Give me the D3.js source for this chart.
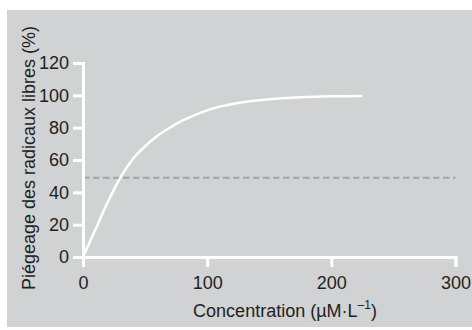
<!DOCTYPE html>
<html>
<head>
<meta charset="utf-8">
<script src="https://cdn.jsdelivr.net/npm/d3@7"></script>
<style>
  body { margin: 0; background: #fff; }
  svg { display: block; font-family: 'Liberation Sans', Arial, sans-serif; }
</style>
</head>
<body>
<script>
// concentration (µM/L) and scavenging (%)
const concentration = [0, 10, 20, 30, 40, 50, 60, 70, 80, 90, 100, 110, 125, 150, 175, 200, 225]
const scavenging = [0, 17, 34, 49, 60.5, 68.5, 75, 80, 84.3, 87.8, 90.7, 93, 95.3, 97.6, 98.8, 99.4, 99.6]
const halfLevel = 49
const xTicks = [0, 100, 200, 300]
const yTicks = [0, 20, 40, 60, 80, 100, 120]

const width = 472, height = 330
const margin = { top: 63, left: 83, right: 16, bottom: 73 }
const textColor = '#231f20'
const fontSize = '18px'

const svg = d3.select('body')
  .append('svg')
  .attr('width', width)
  .attr('height', height)

// grey panel
svg.append('rect')
  .attr('x', 7)
  .attr('y', 10)
  .attr('width', width - 7)
  .attr('height', 317)
  .attr('fill', '#d1d2d4')

const x = d3.scaleLinear()
  .domain([0, 300])
  .range([margin.left, width - margin.right - 0.5])

const y = d3.scaleLinear()
  .domain([0, 120])
  .range([height - margin.bottom, margin.top])

const xAxis = d3.axisBottom(x)
  .tickValues(xTicks)
  .tickSize(10)
  .tickPadding(9)

const yAxis = d3.axisLeft(y)
  .tickValues(yTicks)
  .tickSize(10)
  .tickPadding(4)

function styleAxis(g) {
  g.select('.domain').attr('stroke', '#fff').attr('stroke-width', 3)
  g.selectAll('.tick line').attr('stroke', '#fff').attr('stroke-width', 3)
  g.selectAll('.tick text')
    .attr('fill', textColor)
    .style('font-size', fontSize)
    .style('font-family', "'Liberation Sans', Arial, sans-serif")
}

// dashed 50% line
svg.append('line')
  .attr('x1', x(0))
  .attr('x2', x(300))
  .attr('y1', y(halfLevel))
  .attr('y2', y(halfLevel))
  .attr('stroke', '#a3a4a6')
  .attr('stroke-width', 2)
  .attr('stroke-dasharray', '6.5,3.5')

svg.append('g')
  .attr('transform', `translate(0, ${height - margin.bottom})`)
  .call(xAxis)
  .call(styleAxis)

svg.append('g')
  .attr('transform', `translate(${margin.left}, 0)`)
  .call(yAxis)
  .call(styleAxis)

const line = d3.line()
  .x((d, i) => x(concentration[i]))
  .y(d => y(d))
  .curve(d3.curveMonotoneX)

svg.append('path')
  .datum(scavenging)
  .attr('d', line)
  .attr('fill', 'none')
  .attr('stroke', '#fff')
  .attr('stroke-width', 2.5)

// axis titles
svg.append('text')
  .attr('transform', 'translate(35, 158) rotate(-90)')
  .attr('text-anchor', 'middle')
  .attr('fill', textColor)
  .style('font-size', fontSize)
  .text('Piégeage des radicaux libres (%)')

const xTitle = svg.append('text')
  .attr('x', 285)
  .attr('y', 317)
  .attr('text-anchor', 'middle')
  .attr('fill', textColor)
  .style('font-size', fontSize)

xTitle.append('tspan').text('Concentration (µM·L')
xTitle.append('tspan')
  .attr('dy', -8)
  .style('font-size', '12px')
  .text('–1')
xTitle.append('tspan')
  .attr('dy', 8)
  .text(')')
</script>
</body>
</html>
